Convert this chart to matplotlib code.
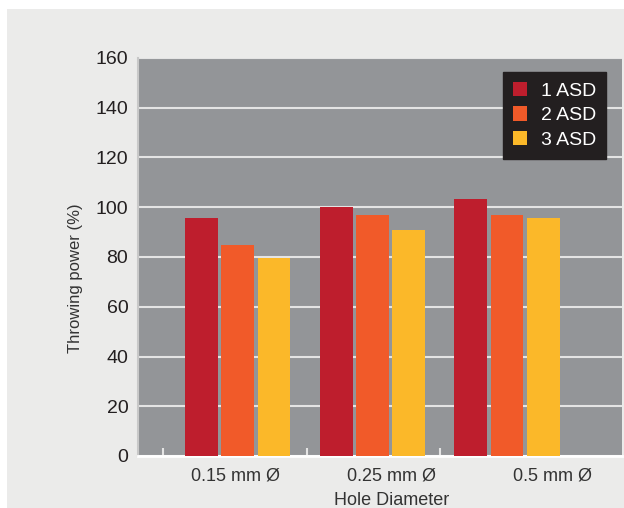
import matplotlib
matplotlib.use('Agg')
import matplotlib.pyplot as plt
from matplotlib.patches import Rectangle
import numpy as np

categories = ['0.15 mm Ø', '0.25 mm Ø', '0.5 mm Ø']
series = ['1 ASD', '2 ASD', '3 ASD']
asd1 = [95.5, 100, 103.5]
asd2 = [85, 97, 97]
asd3 = [79.7, 90.7, 95.5]
yticks = [0, 20, 40, 60, 80, 100, 120, 140, 160]

colors = ['#be1e2d', '#f15a29', '#fbb829']
plt.rcParams['font.family'] = ['Liberation Sans', 'DejaVu Sans']

fig = plt.figure(figsize=(6.24, 5.08), dpi=100)
fig.patch.set_facecolor('white')
fig.patches.append(Rectangle((7 / 624, 0), 1, 1 - 9 / 508, transform=fig.transFigure,
                             facecolor='#ebebea', edgecolor='none', zorder=-10))

ax = fig.add_axes([138 / 624, 1 - 456 / 508, 484 / 624, 398 / 508])
ax.set_facecolor('#939598')

x = np.arange(len(categories))
w = 0.245
step = 0.268
for i, (vals, lab) in enumerate(zip([asd1, asd2, asd3], series)):
    ax.bar(x + (i - 1) * step, vals, w, color=colors[i], label=lab, zorder=3)

ax.set_xlim(-0.743, 2.855)
ax.set_ylim(0, 160)
ax.set_yticks(yticks)
ax.yaxis.grid(True, color='#e4e4e4', linewidth=1.5, zorder=1)
ax.set_axisbelow(True)
ax.tick_params(axis='y', length=0, pad=7, labelsize=14, labelcolor='#231f20')

# category labels sit a little off the group centres in the original
ax.set_xticks([-0.02, 1.14, 2.34])
ax.set_xticklabels(categories)
ax.tick_params(axis='x', which='major', length=0, pad=8, labelsize=13, labelcolor='#333333')
ax.set_xticks([-0.558, 0.513, 1.502], minor=True)
ax.tick_params(axis='x', which='minor', direction='in', length=6, width=1.5, color='#e4e4e4')

for s in ['top', 'right']:
    ax.spines[s].set_visible(False)
ax.spines['left'].set_color('#c8c8c8')
ax.spines['left'].set_linewidth(1.5)
ax.spines['bottom'].set_color('white')
ax.spines['bottom'].set_linewidth(2)

ax.set_ylabel('Throwing power (%)', fontsize=12, color='#333333')
ax.yaxis.set_label_coords(-0.114, 0.447)
ax.set_xlabel('Hole Diameter', fontsize=13, color='#333333', va='top')
ax.xaxis.set_label_coords(0.525, -0.0905)

leg = ax.legend(loc='upper right', bbox_to_anchor=(0.967, 0.965), borderaxespad=0,
                fontsize=14, frameon=True, fancybox=False, facecolor='#231f20',
                edgecolor='#231f20', framealpha=1, handlelength=0.75, handleheight=0.75,
                handletextpad=0.7, labelspacing=0.35, borderpad=0.5)
for t in leg.get_texts():
    t.set_color('white')

fig.savefig('out.png', dpi=100)
